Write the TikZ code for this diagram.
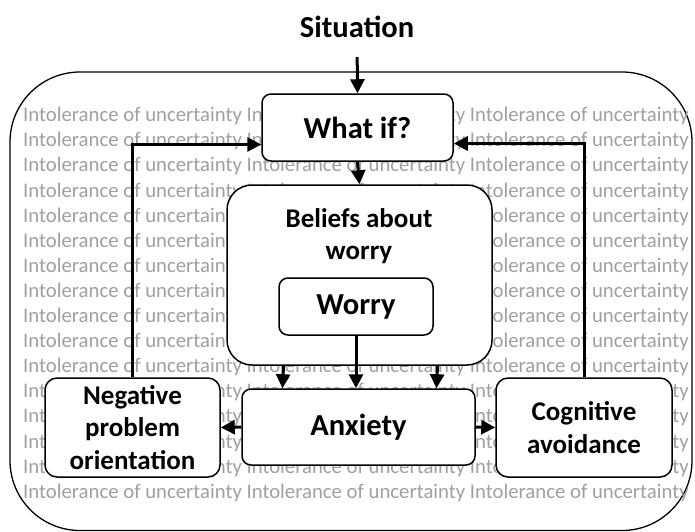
\documentclass[tikz,border=0pt]{standalone}
\usepackage{fontspec}
\setmainfont{Carlito}
\usetikzlibrary{arrows.meta}
\definecolor{bggray}{RGB}{160,160,160}
\tikzset{
  box/.style={draw=black, line width=1.5pt, fill=white, rounded corners=9pt, inner sep=0pt},
  bigtxt/.style={font=\fontsize{30.5}{36}\bfseries\selectfont},
  midtxt/.style={font=\fontsize{27}{32.5}\bfseries\selectfont, align=center},
  bgtext/.style={text=bggray, font=\fontsize{20.75}{25}\selectfont, inner sep=0pt, anchor=base west},
  arr/.style={line width=3pt, -{Triangle[width=14pt,length=14pt]}}
}
\begin{document}
\begin{tikzpicture}[x=1pt,y=-1pt]
\useasboundingbox (0,0) rectangle (695,531);
% outer frame
\draw[line width=1.3pt, fill=white, rounded corners=70pt] (10,72) rectangle (692,530.5);
% background text
\foreach \i in {0,...,15}{
  \node[bgtext] (bg\i) at (23,121.7+25.1*\i) {Intolerance of uncertainty Intolerance of uncertainty Intolerance of uncertainty};
}
% boxes
\node[bigtxt, inner sep=0pt] (situation) at (357,27) {Situation};
\node[box, bigtxt, minimum width=191pt, minimum height=67pt] (whatif) at (357.5,127.5) {What if?};
\node[box, rounded corners=25pt, minimum width=265pt, minimum height=180pt] (beliefs) at (359.5,275) {};
\node[midtxt, anchor=center] (beliefslbl) at (359,236) {Beliefs about\\worry};
\node[box, bigtxt, minimum width=154pt, minimum height=57pt] (worry) at (356,306.5) {Worry};
\node[box, bigtxt, minimum width=233pt, minimum height=76pt] (anxiety) at (358.5,427) {Anxiety};
\node[box, midtxt, rounded corners=12pt, minimum width=175pt, minimum height=99pt] (npo) at (132.5,427.5) {Negative\\problem\\orientation};
\node[box, midtxt, rounded corners=12pt, minimum width=176pt, minimum height=99pt] (ca) at (584,427.5) {Cognitive\\avoidance};
% connectors
\draw[arr, shorten <=19pt] (situation.south) -- (whatif.north);
\draw[arr] (whatif.south) -- (beliefs.north);
\draw[arr] ([xshift=-76pt]beliefs.south) -- ([xshift=-76pt]anxiety.north);
\draw[arr] ([xshift=78pt]beliefs.south) -- ([xshift=78pt]anxiety.north);
\draw[arr] (worry.south) -- (worry.south |- anxiety.north);
\draw[arr] (anxiety.west) -- (npo.east);
\draw[arr] (anxiety.east) -- (ca.east -| ca.west);
\draw[arr] (npo.north) |- ([yshift=-17pt]whatif.west);
\draw[arr] (ca.north) |- ([yshift=-16pt]whatif.east);
\end{tikzpicture}
\end{document}
